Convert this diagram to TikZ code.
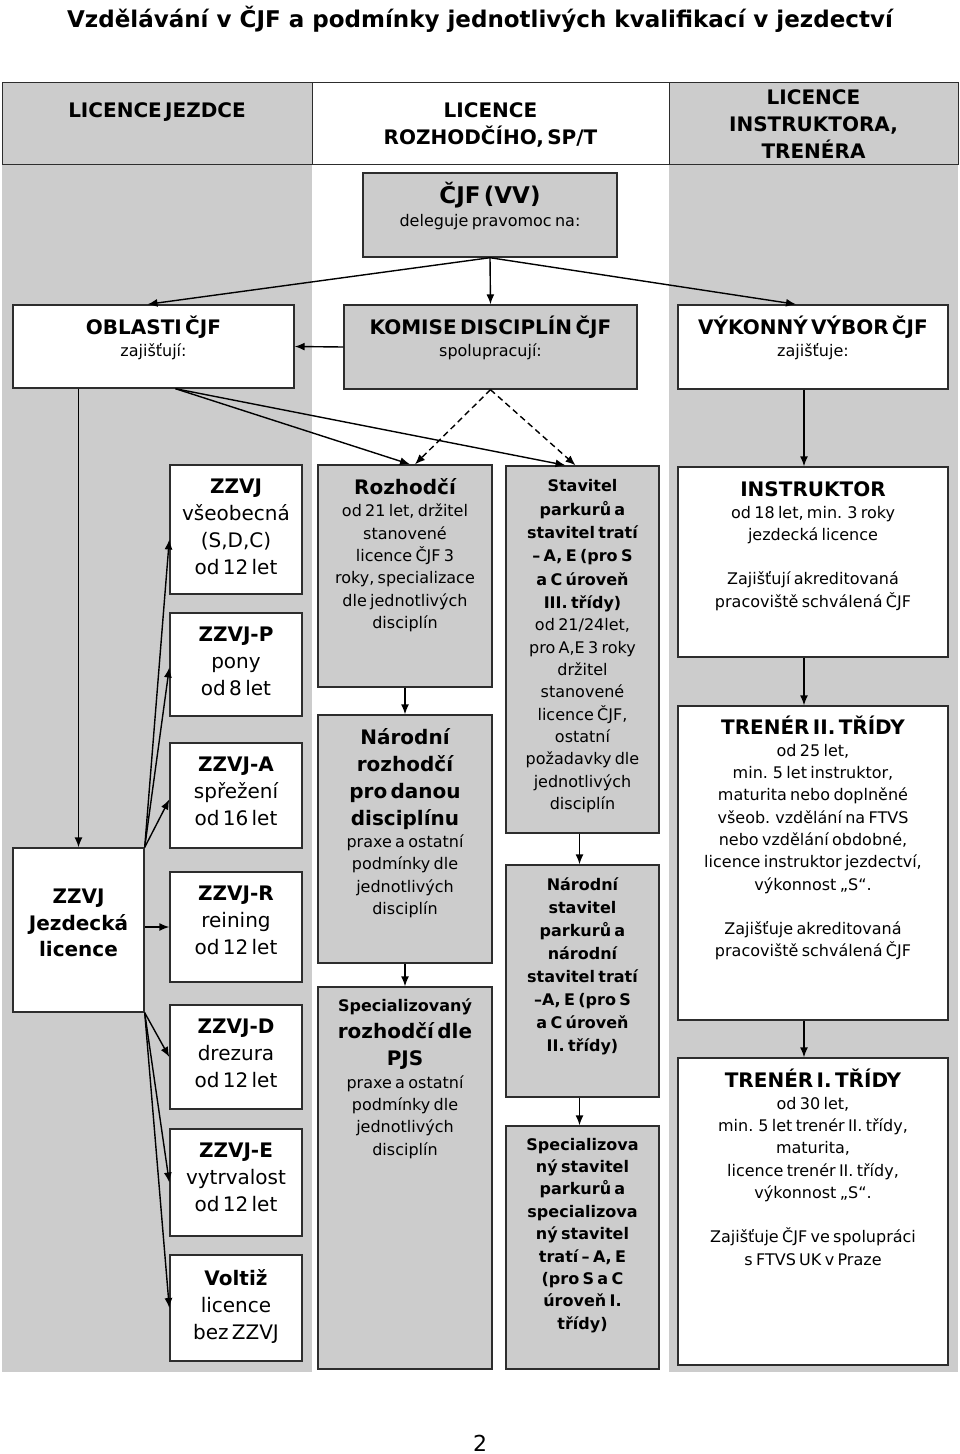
\documentclass[tikz,border=0pt]{standalone}
\usepackage{fontspec}
\setmainfont{DejaVu Sans}
\usepackage{tikz}
\usetikzlibrary{%
	arrows.meta,%
	positioning,%
	fit
}

\definecolor{panelgray}{RGB}{204,204,204}
\definecolor{edgegray}{RGB}{45,45,45}

\newcommand\hdA{\fontsize{20}{27}\selectfont\bfseries}
\newcommand\txA{\fontsize{20}{27}\selectfont\mdseries}
\newcommand\hdB{\fontsize{16}{23}\selectfont\bfseries}
\newcommand\txB{\fontsize{16}{22.3}\selectfont\mdseries}

\tikzset{
	every node/.style={inner sep=0pt},
	hcell/.style={draw=edgegray, line width=0.9pt},
	wbox/.style={draw=edgegray, line width=1.4pt, fill=white},
	gbox/.style={wbox, fill=panelgray},
	txt/.style={anchor=north, align=center, text width=#1},
	txt/.default=150pt,
	arr/.style={line width=1.4pt, -{Latex[length=10pt,width=8pt]}},
	darr/.style={arr, dash pattern=on 6pt off 4pt}
}

\begin{document}
\begin{tikzpicture}[x=1pt, y=-1pt]
	\useasboundingbox (0,0) rectangle (960,1454);
	
	% Title
	\node (title) at (480,19) {\fontsize{23}{28}\selectfont\bfseries Vzdělávání v ČJF a podmínky jednotlivých kvalifikací v jezdectví};
	
	% Gray columns under the header
	\fill[panelgray] (2,164) rectangle (312,1372);
	\fill[panelgray] (669,164) rectangle (958,1372);
	
	% Header row
	\node[hcell, fill=panelgray, fit={(2,82) (312,164)}] (hJ) {};
	\node[hcell, fill=white, fit={(312,82) (669,164)}] (hR) {};
	\node[hcell, fill=panelgray, fit={(669,82) (958,164)}] (hI) {};
	\node[txt=300pt, below=20.7pt of hJ.north] (hJt) {\hdA LICENCE JEZDCE\par};
	\node[txt=340pt, below=20.7pt of hR.north] (hRt) {\hdA LICENCE\\ROZHODČÍHO, SP/T\par};
	\node[txt=280pt, below=7.7pt of hI.north] (hIt) {\hdA LICENCE\\INSTRUKTORA,\\TRENÉRA\par};
	
	% CJF and the three bodies below it
	\node[gbox, fit={(363,173) (617,257)}] (cjf) {};
	\node[txt=250pt, below=10pt of cjf.north] (cjft) {\fontsize{23}{28}\selectfont\bfseries ČJF (VV)\\ \txB deleguje pravomoc na:\par};
	\node[wbox, fit={(13,305) (294,388)}] (obl) {};
	\node[txt=275pt, below=11pt of obl.north] (oblt) {\hdA OBLASTI ČJF\\ \txB zajišťují:\par};
	\node[gbox, fit={(344,305) (637,389)}] (kom) {};
	\node[txt=290pt, below=11pt of kom.north] (komt) {\hdA KOMISE DISCIPLÍN ČJF\\ \txB spolupracují:\par};
	\node[wbox, fit={(678,305) (948,389)}] (vyk) {};
	\node[txt=266pt, below=11pt of vyk.north] (vykt) {\hdA VÝKONNÝ VÝBOR ČJF\\ \txB zajišťuje:\par};
	
	% Rider licences
	\node[wbox, fit={(13,848) (144,1012)}] (jez) {};
	\node[txt=128pt, below=41.7pt of jez.north] (jezt) {\fontsize{20}{26.5}\selectfont\bfseries ZZVJ\\Jezdecká\\licence\par};
	\node[wbox, fit={(170,465) (302,594)}] (zzS) {};
	\node[txt=130pt, below=14.7pt of zzS.north] (zzSt) {\hdA ZZVJ\\ \txA všeobecná\\(S,D,C)\\od 12 let\par};
	\foreach \nm/\ya/\yb/\hd/\la/\lb in {
		P/613/716/ZZVJ-P/pony/od 8 let,
		A/743/848/ZZVJ-A/spřežení/od 16 let,
		R/872/982/ZZVJ-R/reining/od 12 let,
		D/1005/1109/ZZVJ-D/drezura/od 12 let,
		E/1129/1236/ZZVJ-E/vytrvalost/od 12 let,
		V/1255/1361/Voltiž/licence/bez ZZVJ} {
		\node[wbox, fit={(170,\ya) (302,\yb)}] (zz\nm) {};
		\node[txt=130pt, below=14.7pt of zz\nm.north] (zz\nm t) {\hdA \hd\\ \txA \la\\ \lb\par};
	}
	
	% Judges
	\node[gbox, fit={(318,465) (492,687)}] (roz) {};
	\node[txt=170pt, below=14pt of roz.north] (rozt) {\hdA Rozhodčí\\ \txB od 21 let, držitel\\stanovené\\licence ČJF 3\\roky, specializace\\dle jednotlivých\\disciplín\par};
	\node[gbox, fit={(318,715) (492,963)}] (nroz) {};
	\node[txt=170pt, below=13.7pt of nroz.north] (nrozt) {\hdA Národní\\rozhodčí\\pro danou\\disciplínu\\ \txB praxe a ostatní\\podmínky dle\\jednotlivých\\disciplín\par};
	\node[gbox, fit={(318,987) (492,1369)}] (sroz) {};
	\node[txt=170pt, below=12.6pt of sroz.north] (srozt) {\hdB Specializovaný\\ \hdA rozhodčí dle\\PJS\\ \txB praxe a ostatní\\podmínky dle\\jednotlivých\\disciplín\par};
	
	% Course designers
	\node[gbox, fit={(506,466) (659,833)}] (stav) {};
	\node[txt=150pt, below=14pt of stav.north] (stavt) {\hdB\fontsize{16}{23.4}\selectfont Stavitel\\parkurů a\\stavitel tratí\\– A, E (pro S\\a C úroveň\\III. třídy)\\ \txB od 21/24let,\\pro A,E 3 roky\\držitel\\stanovené\\licence ČJF,\\ostatní\\požadavky dle\\jednotlivých\\disciplín\par};
	\node[gbox, fit={(506,865) (659,1097)}] (nstav) {};
	\node[txt=150pt, below=13.5pt of nstav.north] (nstavt) {\hdB Národní\\stavitel\\parkurů a\\národní\\stavitel tratí\\–A, E (pro S\\a C úroveň\\II. třídy)\par};
	\node[gbox, fit={(506,1126) (659,1369)}] (sstav) {};
	\node[txt=150pt, below=12.5pt of sstav.north] (sstavt) {\hdB\fontsize{16}{22.4}\selectfont Specializova\\ný stavitel\\parkurů a\\specializova\\ný stavitel\\tratí – A, E\\(pro S a C\\úroveň I.\\třídy)\par};
	
	% Instructors and trainers
	\node[wbox, fit={(678,467) (948,657)}] (instr) {};
	\node[txt=266pt, below=14.7pt of instr.north] (instrt) {\hdA INSTRUKTOR\\ \txB od 18 let, min. 3 roky\\jezdecká licence\\[22pt]Zajišťují akreditovaná\\pracoviště schválená ČJF\par};
	\node[wbox, fit={(678,706) (948,1020)}] (tr2) {};
	\node[txt=266pt, below=10pt of tr2.north] (tr2t) {\hdA TRENÉR II. TŘÍDY\\ \txB od 25 let,\\min. 5 let instruktor,\\maturita nebo doplněné\\všeob. vzdělání na FTVS\\nebo vzdělání obdobné,\\licence instruktor jezdectví,\\výkonnost „S“.\\[22pt]Zajišťuje akreditovaná\\pracoviště schválená ČJF\par};
	\node[wbox, fit={(678,1058) (948,1365)}] (tr1) {};
	\node[txt=266pt, below=11pt of tr1.north] (tr1t) {\hdA TRENÉR I. TŘÍDY\\ \txB od 30 let,\\min. 5 let trenér II. třídy,\\maturita,\\licence trenér II. třídy,\\výkonnost „S“.\\[22pt]Zajišťuje ČJF ve spolupráci\\s FTVS UK v Praze\par};
	
	% Arrows from CJF
	\draw[arr] (cjf.south) -- ([xshift=-6pt]obl.north);
	\draw[arr] (cjf.south) -- (kom.north);
	\draw[arr] (cjf.south) -- ([xshift=-17pt]vyk.north);
	\draw[arr] (kom.west) -- (obl.east);
	
	% Arrows from the three bodies
	\draw[arr] (jez.north |- obl.south) -- (jez.north);
	\draw[arr] ([xshift=22pt]obl.south) -- ([xshift=5pt]roz.north);
	\draw[arr] ([xshift=22pt]obl.south) -- ([xshift=-17pt]stav.north);
	\draw[darr] (kom.south) -- ([xshift=10pt]roz.north);
	\draw[darr] (kom.south) -- ([xshift=-7pt]stav.north);
	\draw[arr] ([xshift=-9pt]vyk.south) -- ([xshift=-9pt]instr.north);
	
	% Rider licence fan
	\draw[arr] (jez.north east) -- ([yshift=-10pt]zzS.west);
	\draw[arr] (jez.north east) -- ([yshift=-3pt]zzP.west);
	\draw[arr] (jez.north east) -- ([yshift=-4pt]zzA.west);
	\draw[arr] (jez.east |- zzR.west) -- (zzR.west);
	\foreach \nm in {D,E,V}
		\draw[arr] (jez.south east) -- (zz\nm.west);
	
	% Chains inside the columns
	\foreach \a/\b/\s in {roz/nroz/0, nroz/sroz/0, stav/nstav/-3, nstav/sstav/-3, instr/tr2/-9, tr2/tr1/-9}
		\draw[arr] ([xshift=\s pt]\a.south) -- ([xshift=\s pt]\b.north);
	
	% Page number
	\node (pg) at (480,1443) {\fontsize{22}{26}\selectfont 2};
\end{tikzpicture}
\end{document}
